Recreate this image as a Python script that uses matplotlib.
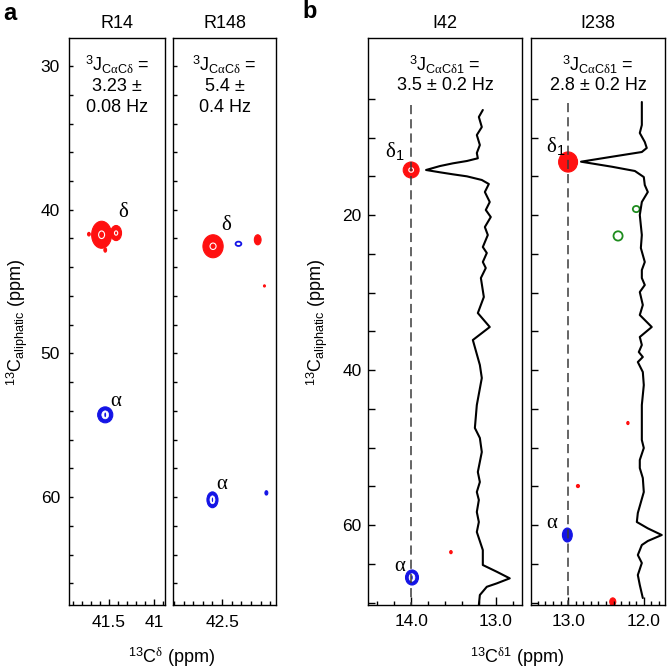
import numpy as np
import matplotlib
matplotlib.use('Agg')
import matplotlib.pyplot as plt
from matplotlib.patches import Ellipse

plt.rcParams['font.family'] = ['Liberation Sans', 'DejaVu Sans']
plt.rcParams['mathtext.fontset'] = 'custom'
plt.rcParams['mathtext.rm'] = 'Liberation Sans'
plt.rcParams['mathtext.it'] = 'Liberation Serif'
plt.rcParams['mathtext.bf'] = 'Liberation Sans:bold'

RED = '#ff1010'
BLUE = '#1414e6'
GREEN = '#1e8c1e'

# ---- panel a : Arg Cα/Cδ strips ----
a_names = ['R14', 'R148']
a_jvalue = ['3.23 \u00b1', '5.4 \u00b1']
a_jerror = ['0.08 Hz', '0.4 Hz']
a_xlim = [(41.94, 40.88), (43.01, 41.94)]
a_xtick_vals = [[41.5, 41.0], [42.5]]
a_xtick_labels = [['41.5', '41'], ['42.5']]
a_ylim = (67.5, 28.05)
a_ytick_labels = ['30', '40', '50', '60']

r14_peak_x = [41.58, 41.42, 41.72, 41.54, 41.54]
r14_peak_y = [41.74, 41.62, 41.70, 42.80, 54.27]
r14_peak_w = [0.22, 0.12, 0.03, 0.03, 0.167]
r14_peak_h = [1.88, 1.05, 0.25, 0.30, 1.11]
r14_peak_kind = ['pos', 'pos', 'pos_s', 'pos_s', 'neg']

r148_peak_x = [42.594, 42.13, 42.06, 42.33, 42.60, 42.04]
r148_peak_y = [42.54, 42.09, 45.30, 42.37, 60.18, 59.70]
r148_peak_w = [0.21, 0.07, 0.02, 0.06, 0.115, 0.03]
r148_peak_h = [1.60, 0.70, 0.15, 0.30, 1.10, 0.30]
r148_peak_kind = ['pos', 'pos_s', 'pos_s', 'neg_o', 'neg', 'neg_s']

r14_labels = [('\u03b4', 41.34, 40.17), ('\u03b1', 41.42, 53.36)]
r148_labels = [('\u03b4', 42.46, 41.08), ('\u03b1', 42.50, 59.14)]

# ---- panel b : Ile Cα/Cδ1 strips with 1D traces ----
b_names = ['I42', 'I238']
b_jtext = ['3.5 \u00b1 0.2 Hz', '2.8 \u00b1 0.2 Hz']
b_xlim = [(14.51, 12.69), (13.49, 11.72)]
b_xtick_vals = [[14.0, 13.0], [13.0, 12.0]]
b_xtick_labels = [['14.0', '13.0'], ['13.0', '12.0']]
b_ylim = (70.32, -2.84)
b_ytick_labels = ['20', '40', '60']
b_dash_x = [14.0, 13.0]
b_dash_top = [5.8, 5.5]

i42_peak_x = [14.00, 13.99, 13.53]
i42_peak_y = [14.19, 66.77, 63.50]
i42_peak_w = [0.188, 0.153, 0.03]
i42_peak_h = [2.06, 1.94, 0.40]
i42_peak_kind = ['pos', 'neg', 'pos_s']

i238_peak_x = [13.00, 13.01, 12.10, 12.34, 12.21, 12.87, 12.41]
i238_peak_y = [13.16, 61.29, 19.23, 22.70, 46.84, 54.97, 69.90]
i238_peak_w = [0.25, 0.13, 0.09, 0.12, 0.03, 0.04, 0.08]
i238_peak_h = [2.60, 1.80, 0.80, 1.20, 0.40, 0.40, 1.00]
i238_peak_kind = ['pos_f', 'neg_f', 'grn', 'grn', 'pos_s', 'pos_s', 'pos_s']

i42_labels = [('\u03b4$_1$', 14.19, 11.8), ('\u03b1', 14.14, 65.3)]
i238_labels = [('\u03b4$_1$', 13.17, 11.1), ('\u03b1', 13.22, 59.74)]

i42_trace_y = [6.45, 7.35, 8.65, 9.68, 10.97, 12.00, 12.68, 13.03, 13.33, 13.68,
               14.19, 14.49, 14.75, 15.01, 15.48, 16.00, 17.03, 18.32, 19.35, 20.26,
               21.55, 22.58, 24.13, 24.90, 26.06, 26.84, 28.13, 30.58, 32.65, 34.45,
               36.13, 39.35, 41.03, 44.52, 47.48, 48.77, 50.58, 53.16, 54.45, 55.74,
               56.77, 58.32, 59.61, 60.90, 63.23, 65.16, 66.03, 66.88, 67.53, 67.97,
               69.03, 70.32]
i42_trace_x = [13.153, 13.200, 13.165, 13.224, 13.188, 13.224, 13.212, 13.341, 13.506, 13.659,
               13.824, 13.659, 13.506, 13.341, 13.165, 13.082, 13.129, 13.071, 13.118, 13.059,
               13.129, 13.094, 13.153, 13.106, 13.153, 13.118, 13.176, 13.141, 13.212, 13.071,
               13.271, 13.188, 13.165, 13.224, 13.247, 13.188, 13.165, 13.212, 13.188, 13.224,
               13.200, 13.224, 13.200, 13.224, 13.153, 13.153, 12.988, 12.835, 12.988, 13.106,
               13.188, 13.200]

i238_trace_y = [5.42, 8.39, 9.42, 10.58, 11.35, 11.87, 12.48, 13.12, 13.77, 14.32,
                15.10, 16.13, 17.03, 18.32, 20.00, 22.58, 24.26, 26.06, 27.10, 28.13,
                29.03, 29.94, 31.61, 32.90, 34.45, 35.74, 36.77, 37.68, 38.32, 38.97,
                40.26, 41.94, 44.52, 46.71, 49.03, 50.06, 51.61, 52.65, 53.94, 55.74,
                58.45, 59.61, 60.43, 61.29, 62.06, 62.58, 63.87, 64.90, 66.45, 67.74,
                69.42]
i238_trace_x = [12.026, 12.026, 12.053, 11.987, 11.961, 12.026, 12.421, 12.829, 12.421, 12.118,
                12.000, 11.987, 11.947, 12.026, 12.053, 12.026, 12.039, 11.987, 12.026, 12.026,
                11.987, 12.053, 12.013, 12.053, 11.895, 12.053, 12.026, 12.066, 12.013, 12.079,
                12.013, 12.000, 12.026, 12.026, 12.026, 12.000, 12.053, 12.053, 12.013, 12.000,
                12.079, 12.092, 11.947, 11.763, 11.947, 12.026, 12.079, 12.026, 12.079, 12.053,
                12.013]


def draw_peak(ax, x, y, w, h, kind):
    if kind == 'pos':
        ax.add_patch(Ellipse((x, y), w, h, fc=RED, ec=RED, lw=0.8))
        ax.add_patch(Ellipse((x, y), w * 0.3, h * 0.28, fc='none', ec='white', lw=0.8))
    elif kind in ('pos_s', 'pos_f'):
        ax.add_patch(Ellipse((x, y), w, h, fc=RED, ec=RED, lw=0.8))
    elif kind == 'neg':
        ax.add_patch(Ellipse((x, y), w, h, fc=BLUE, ec=BLUE, lw=0.8))
        ax.add_patch(Ellipse((x, y), w * 0.45, h * 0.5, fc='white', ec='white', lw=0.5))
        ax.add_patch(Ellipse((x, y), w * 0.12, h * 0.3, fc=BLUE, ec='none'))
    elif kind in ('neg_s', 'neg_f'):
        ax.add_patch(Ellipse((x, y), w, h, fc=BLUE, ec=BLUE, lw=0.8))
    elif kind == 'neg_o':
        ax.add_patch(Ellipse((x, y), w, h, fc='none', ec=BLUE, lw=1.3))
    elif kind == 'grn':
        ax.add_patch(Ellipse((x, y), w, h, fc='none', ec=GREEN, lw=1.3))


def base_style(ax):
    for s in ax.spines.values():
        s.set_linewidth(1.0)
    ax.tick_params(which='both', direction='in', top=False, right=False,
                   width=1.0, labelsize=12.5, colors='black')


fig = plt.figure(figsize=(6.67, 6.70), dpi=100)
W, H = 667.0, 670.0


def add_axes_px(l, r, t, b):
    return fig.add_axes([l / W, 1 - b / H, (r - l) / W, (b - t) / H])


# panel a
a_boxes = [(69, 165), (173, 276)]
a_peaks = [(r14_peak_x, r14_peak_y, r14_peak_w, r14_peak_h, r14_peak_kind),
           (r148_peak_x, r148_peak_y, r148_peak_w, r148_peak_h, r148_peak_kind)]
a_labels = [r14_labels, r148_labels]
for i, (l, r) in enumerate(a_boxes):
    ax = add_axes_px(l, r, 38, 605)
    base_style(ax)
    ax.set_xticks(a_xtick_vals[i], a_xtick_labels[i])
    ax.set_xticks(np.arange(43.0, 40.85, -0.1), minor=True)
    ax.set_yticks([float(v) for v in a_ytick_labels],
                  a_ytick_labels if i == 0 else [])
    ax.set_yticks(np.arange(30, 67, 2), minor=True)
    ax.set_xlim(*a_xlim[i])
    ax.set_ylim(*a_ylim)
    ax.tick_params(axis='x', which='major', length=4.5, pad=7)
    ax.tick_params(axis='x', which='minor', length=3)
    ax.tick_params(axis='y', which='both', length=3, pad=6.5)
    for px, py, pw, ph, pk in zip(*a_peaks[i]):
        draw_peak(ax, px, py, pw, ph, pk)
    for txt, tx, ty in a_labels[i]:
        ax.text(tx, ty, txt, family='Liberation Serif', fontsize=15,
                ha='center', va='center')
    ax.set_title(a_names[i], fontsize=13, pad=7)
    ax.text(0.5, 0.952, r'$^{3}$J$_{\mathrm{C}\alpha\mathrm{C}\delta}$ =',
            transform=ax.transAxes, ha='center', va='center', fontsize=13)
    ax.text(0.5, 0.914, a_jvalue[i], transform=ax.transAxes,
            ha='center', va='center', fontsize=13)
    ax.text(0.5, 0.877, a_jerror[i], transform=ax.transAxes,
            ha='center', va='center', fontsize=13)

# panel b
b_boxes = [(368, 522), (531, 665)]
b_minor_step = [0.2, 0.1]
b_peaks = [(i42_peak_x, i42_peak_y, i42_peak_w, i42_peak_h, i42_peak_kind),
           (i238_peak_x, i238_peak_y, i238_peak_w, i238_peak_h, i238_peak_kind)]
b_labels = [i42_labels, i238_labels]
b_traces = [(i42_trace_x, i42_trace_y), (i238_trace_x, i238_trace_y)]
for i, (l, r) in enumerate(b_boxes):
    ax = add_axes_px(l, r, 38, 605)
    base_style(ax)
    ax.set_xticks(b_xtick_vals[i], b_xtick_labels[i])
    ax.set_xticks(np.arange(14.6, 11.6, -b_minor_step[i]), minor=True)
    ax.set_yticks([float(v) for v in b_ytick_labels],
                  b_ytick_labels if i == 0 else [])
    ax.set_yticks(np.arange(5, 71, 5), minor=True)
    ax.set_xlim(*b_xlim[i])
    ax.set_ylim(*b_ylim)
    ax.tick_params(axis='x', which='major', length=5.5, pad=6.5)
    ax.tick_params(axis='x', which='minor', length=3)
    ax.tick_params(axis='y', which='both', length=5, pad=4.5)
    for px, py, pw, ph, pk in zip(*b_peaks[i]):
        draw_peak(ax, px, py, pw, ph, pk)
    ax.plot(b_traces[i][0], b_traces[i][1], color='black', lw=1.5,
            solid_joinstyle='round', solid_capstyle='round', zorder=2)
    ax.plot([b_dash_x[i], b_dash_x[i]], [b_dash_top[i], b_ylim[0]],
            color='#3a3a3a', lw=1.1, dashes=(6.0, 3.3), zorder=3)
    for txt, tx, ty in b_labels[i]:
        ax.text(tx, ty, txt, family='Liberation Serif', fontsize=15,
                ha='center', va='center')
    ax.set_title(b_names[i], fontsize=13, pad=7)
    ax.text(0.5, 0.952, r'$^{3}$J$_{\mathrm{C}\alpha\mathrm{C}\delta\mathrm{1}}$ =',
            transform=ax.transAxes, ha='center', va='center', fontsize=13)
    ax.text(0.5, 0.917, b_jtext[i], transform=ax.transAxes,
            ha='center', va='center', fontsize=13)

# axis labels and panel letters
fig.text(17 / W, 1 - 322 / H, r'$^{13}$C$_{\mathrm{aliphatic}}$ (ppm)',
         rotation=90, ha='center', va='center', fontsize=13)
fig.text(317 / W, 1 - 322 / H, r'$^{13}$C$_{\mathrm{aliphatic}}$ (ppm)',
         rotation=90, ha='center', va='center', fontsize=13)
fig.text(172 / W, 1 - 657 / H, r'$^{13}$C$^{\delta}$ (ppm)',
         ha='center', va='center', fontsize=13)
fig.text(517 / W, 1 - 657 / H, r'$^{13}$C$^{\delta\mathrm{1}}$ (ppm)',
         ha='center', va='center', fontsize=13)
fig.text(10 / W, 1 - 13 / H, 'a', fontsize=17, fontweight='bold',
         ha='center', va='center')
fig.text(310 / W, 1 - 11 / H, 'b', fontsize=17, fontweight='bold',
         ha='center', va='center')

fig.savefig('out.png', dpi=100)
